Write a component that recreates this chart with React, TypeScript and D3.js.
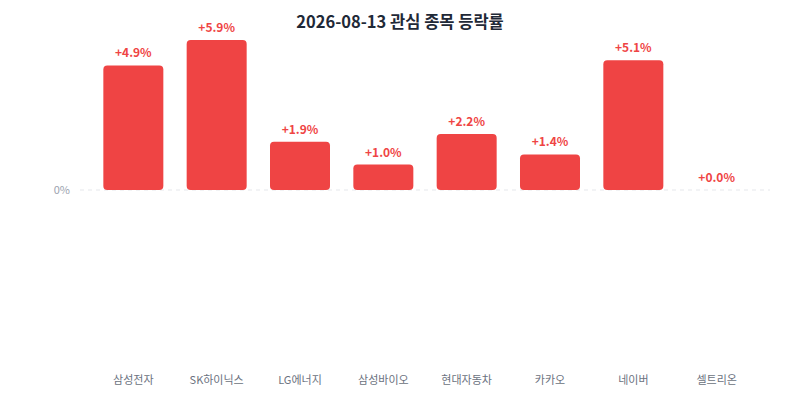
import React from "react";
import * as d3 from "d3";

const categories = ["삼성전자", "SK하이닉스", "LG에너지", "삼성바이오", "현대자동차", "카카오", "네이버", "셀트리온"];
const changes = [4.9, 5.9, 1.9, 1.0, 2.2, 1.4, 5.1, 0.0];
const titleText = "2026-08-13 관심 종목 등락률";
const zeroTickLabel = "0%";

const W = 800;
const H = 400;
const FONT = "'Noto Sans CJK KR', 'Noto Sans', sans-serif";

export default function App() {
  const x = d3.scaleBand<string>().domain(categories).range([91.67, 758.33]).paddingInner(0.28).paddingOuter(0.14);
  const maxAbs = d3.max(changes.map(Math.abs)) || 1;
  const y = d3.scaleLinear().domain([-maxAbs, maxAbs]).range([340, 40]);
  const fmt = (v: number) => (v >= 0 ? "+" : "") + v.toFixed(1) + "%";
  const y0 = y(0);
  return (
    <svg width={W} height={H} style={{ position: "absolute", left: 0, top: 0, fontFamily: FONT }}>
      <rect width={W} height={H} fill="#ffffff" />
      <text x={400} y={28} textAnchor="middle" fontSize={16.5} fontWeight={700} fill="#1f2937">
        {titleText}
      </text>
      <line x1={80} x2={770} y1={y0} y2={y0} stroke="#e5e7eb" strokeWidth={1} strokeDasharray="4 4" />
      <text x={70} y={y0} dy="0.35em" textAnchor="end" fontSize={11} fill="#9ca3af">
        {zeroTickLabel}
      </text>
      {categories.map((c, i) => {
        const v = changes[i];
        const top = y(Math.max(v, 0));
        const h = Math.abs(y(v) - y0);
        const bx = x(c) as number;
        const cx = bx + x.bandwidth() / 2;
        return (
          <g key={c}>
            {h > 0 && <rect x={bx} y={top} width={x.bandwidth()} height={h} rx={4} ry={4} fill="#ef4444" />}
            <text x={cx} y={top - 8} textAnchor="middle" fontSize={12} fontWeight={700} fill="#ef4444">
              {fmt(v)}
            </text>
            <text x={cx} y={380} dy="0.35em" textAnchor="middle" fontSize={11} fill="#6b7280">
              {c}
            </text>
          </g>
        );
      })}
    </svg>
  );
}
